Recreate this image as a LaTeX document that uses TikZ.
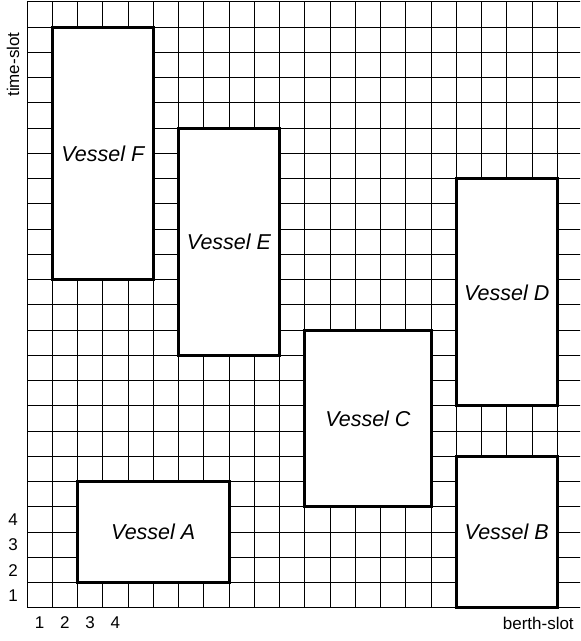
\documentclass[tikz,border=0pt]{standalone}
\usepackage{fontspec}
\setmainfont{Liberation Sans}
\begin{document}
\begin{tikzpicture}[x=25.25pt,y=25.25pt,
  gridline/.style={line width=1pt,draw=black},
  vessel/.style={draw=black,line width=3pt,fill=white},
  vlabel/.style={font=\fontsize{21.5}{25}\selectfont\itshape},
  axlabel/.style={font=\fontsize{17}{20}\selectfont,inner sep=0pt}]
\useasboundingbox (-1.0693,-1.307) rectangle (21.901,24.079);
\clip (-1.0693,-1.307) rectangle (21.901,24.079);
\foreach \i in {0,...,22} \draw[gridline] (\i,0) -- (\i,24);
\foreach \j in {0,...,24} \draw[gridline] (0,\j) -- (22,\j);
% vessels
\draw[vessel] (2,1) rectangle (8,5) node[midway,vlabel] (va) {Vessel A};
\draw[vessel] (17,0) rectangle (21,6) node[midway,vlabel] (vb) {Vessel B};
\draw[vessel] (11,4) rectangle (16,11) node[midway,vlabel] (vc) {Vessel C};
\draw[vessel] (17,8) rectangle (21,17) node[midway,vlabel] (vd) {Vessel D};
\draw[vessel] (6,10) rectangle (10,19) node[midway,vlabel] (ve) {Vessel E};
\draw[vessel] (1,13) rectangle (5,23) node[midway,vlabel] (vf) {Vessel F};
% axis labels
\foreach \i in {1,2,3,4} {
  \node[axlabel] (r\i) at (-0.55,\i-0.5) {\i};
  \node[axlabel] (c\i) at (\i-0.5,-0.594) {\i};
}
\node[axlabel,anchor=east] (bs) at (21.66,-0.594) {berth-slot};
\node[axlabel,rotate=90] (ts) at (-0.554,21.52) {time-slot};
\end{tikzpicture}
\end{document}
